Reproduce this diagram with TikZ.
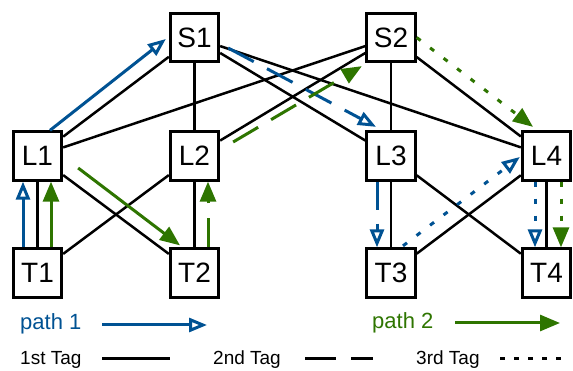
\documentclass[tikz,border=0pt]{standalone}
\usepackage{fontspec}
\setmainfont{Liberation Sans}
\usetikzlibrary{arrows.meta}
\definecolor{pblue}{RGB}{0,82,147}
\definecolor{pgreen}{RGB}{46,117,0}
\begin{document}
\begin{tikzpicture}[x=1pt,y=-1pt,
  box/.style={draw, line width=2.8pt, minimum size=48.5pt, inner sep=0pt, font=\fontsize{28}{28}\selectfont},
  link/.style={line width=2.5pt},
  bluearr/.style={draw=pblue, line width=3pt, -{Triangle[open,length=18pt,width=14pt]}},
  greenarr/.style={draw=pgreen, line width=3pt, -{Triangle[length=20pt,width=16pt]}},
  tagtwo/.style={dash pattern=on 29pt off 15pt},
  tagthree/.style={dash pattern=on 5pt off 12pt},
  lbl/.style={font=\fontsize{19}{19}\selectfont, anchor=base west, inner sep=0pt},
  plbl/.style={font=\fontsize{22}{22}\selectfont, anchor=base west, inner sep=0pt},
  legline/.style={line width=3pt},
]
\useasboundingbox (0,0) rectangle (573,371);

% nodes
\node[box] (S1) at (194.5,37.5) {S1};
\node[box] (S2) at (391,37.5) {S2};
\node[box] (L1) at (37.5,156) {L1};
\node[box] (L2) at (194.5,156) {L2};
\node[box] (L3) at (391,156) {L3};
\node[box] (L4) at (546.5,156) {L4};
\node[box] (T1) at (37.5,273) {T1};
\node[box] (T2) at (194.5,273) {T2};
\node[box] (T3) at (391,273) {T3};
\node[box] (T4) at (546.5,273) {T4};

% black links
\draw[link] (S1) -- (L1);
\draw[link] (S1) -- (L2);
\draw[link] (S1) -- (L3);
\draw[link] (S1) -- (L4);
\draw[link] (S2) -- (L1);
\draw[link] (S2) -- (L2);
\draw[link] (S2) -- (L3);
\draw[link] (S2) -- (L4);
\draw[link] (L1) -- (T1);
\draw[link] (L1) -- (T2);
\draw[link] (L2) -- (T1);
\draw[link] (L2) -- (T2);
\draw[link] (L3) -- (T3);
\draw[link] (L3) -- (T4);
\draw[link] (L4) -- (T3);
\draw[link] (L4) -- (T4);

% path 1 (blue)
\draw[bluearr] ([xshift=-14.5pt]T1.north) -- ([xshift=-14.5pt]L1.south);
\draw[bluearr] ([xshift=12.5pt]L1.north) -- ([shift={(-3pt,-1.5pt)}]S1.west);
\draw[bluearr,tagtwo] ([shift={(8pt,-10.5pt)}]S1.east) -- ([shift={(-15pt,3.5pt)}]L3.north);
\draw[bluearr,dash pattern=on 28pt off 14pt] ([xshift=-14pt]L3.south) -- ([xshift=-14pt]T3.north);
\draw[bluearr,tagthree] ([shift={(12pt,1.5pt)}]T3.north) -- ([shift={(-1pt,-1pt)}]L4.west);
\draw[bluearr,tagthree] ([xshift=-11.5pt]L4.south) -- ([xshift=-11.5pt]T4.north);

% path 2 (green)
\draw[greenarr] ([xshift=13.5pt]T1.north) -- ([xshift=13.5pt]L1.south);
\draw[greenarr] ([shift={(15pt,-12pt)}]L1.east) -- ([shift={(-14.5pt,2pt)}]T2.north);
\draw[greenarr,tagtwo] ([xshift=13.5pt]T2.north) -- ([xshift=13.5pt]L2.south);
\draw[greenarr,tagtwo] ([shift={(13pt,14pt)}]L2.east) -- ([shift={(-3.5pt,-3pt)}]S2.south west);
\draw[greenarr,tagthree] (S2.east) -- ([shift={(-13.5pt,3.5pt)}]L4.north);
\draw[greenarr,tagthree] ([xshift=14.5pt]L4.south) -- ([xshift=14.5pt]T4.north);

% legend
\node[plbl, text=pblue] (p1) at (20,330) {path 1};
\coordinate (p1s) at (102,325);
\coordinate (p1e) at (207,325);
\draw[bluearr] (p1s) -- (p1e);
\node[plbl, text=pgreen] (p2) at (372,329) {path 2};
\coordinate (p2s) at (455,323);
\coordinate (p2e) at (560,323);
\draw[greenarr] (p2s) -- (p2e);

\node[lbl] (g1) at (20,364) {1st Tag};
\coordinate (g1s) at (102,358);
\coordinate (g1e) at (170,358);
\draw[legline] (g1s) -- (g1e);
\node[lbl] (g2) at (213,364) {2nd Tag};
\coordinate (g2s) at (305,358);
\coordinate (g2e) at (373,358);
\draw[legline, dash pattern=on 31pt off 15pt] (g2s) -- (g2e);
\node[lbl] (g3) at (416,364) {3rd Tag};
\coordinate (g3s) at (500,358);
\coordinate (g3e) at (561,358);
\draw[legline, dash pattern=on 5pt off 9pt] (g3s) -- (g3e);
\end{tikzpicture}
\end{document}
